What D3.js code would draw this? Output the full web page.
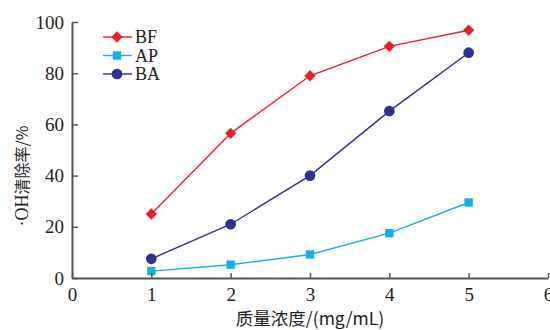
<!DOCTYPE html>
<html><head><meta charset="utf-8">
<script src="https://cdn.jsdelivr.net/npm/d3@7"></script>
<style>body{margin:0;background:#fff}svg{display:block}
.serif{font-family:'Liberation Serif','Times New Roman',serif !important}</style>
</head><body><svg id="c" width="550" height="330"></svg>
<script>
const xValues = [1, 2, 3, 4, 5];
const seriesNames = ["BF", "AP", "BA"];
const bfValues = [25, 56.5, 79, 90.5, 96.8];
const apValues = [2.7, 5.2, 9.2, 17.5, 29.5];
const baValues = [7.5, 21, 40, 65.2, 88];
const xTicks = [0, 1, 2, 3, 4, 5, 6];
const yTicks = [0, 20, 40, 60, 80, 100];
const xLabel = "质量浓度/(mg/mL)";
const yLabelPrefix = "·OH";
const yLabelMain = "清除率/%";

const colors = {BF: "#e8202a", AP: "#14aee8", BA: "#2e3192"};
const svg = d3.select("#c");
const x = d3.scaleLinear().domain([0, 6]).range([72, 548]);
const y = d3.scaleLinear().domain([0, 100]).range([278, 22]);
const cjk = "'Noto Sans CJK SC',sans-serif";

const series = [
  {name: "BF", values: bfValues, shape: d3.symbolSquare, size: 64, rot: 45},
  {name: "AP", values: apValues, shape: d3.symbolSquare, size: 70, rot: 0},
  {name: "BA", values: baValues, shape: d3.symbolCircle, size: 90, rot: 0}
];

const line = d3.line().x((d, i) => x(xValues[i])).y(d => y(d));
series.forEach(s => {
  svg.append("path").attr("d", line(s.values)).attr("fill", "none")
    .attr("stroke", colors[s.name]).attr("stroke-width", 1.4);
  svg.selectAll(null).data(s.values).enter().append("path")
    .attr("d", d3.symbol().type(s.shape).size(s.size))
    .attr("transform", (d, i) => `translate(${x(xValues[i])},${y(d)}) rotate(${s.rot})`)
    .attr("fill", colors[s.name]);
});

const axisColor = "#555";
const xa = svg.append("g").attr("transform", "translate(0,278)")
  .call(d3.axisBottom(x).tickValues(xTicks).tickFormat(d3.format("d")).tickSize(-5).tickPadding(10).tickSizeOuter(0));
const ya = svg.append("g").attr("transform", "translate(72,0)")
  .call(d3.axisLeft(y).tickValues(yTicks).tickFormat(d3.format("d")).tickSize(-6).tickPadding(8).tickSizeOuter(0));
[xa, ya].forEach(a => {
  a.attr("font-family", null).attr("font-size", 19);
  a.select(".domain").attr("stroke", axisColor).attr("stroke-width", 2);
  a.selectAll(".tick line").attr("stroke", axisColor).attr("stroke-width", 1.5);
  a.selectAll("text").classed("serif", true).attr("font-size", 19).attr("fill", "#222");
});
xa.selectAll("text").attr("dy", "0.71em");

svg.append("text").attr("x", 310).attr("y", 325).attr("text-anchor", "middle")
  .attr("font-family", cjk).attr("font-size", 17.5).attr("fill", "#222").text(xLabel);
const yl = svg.append("text").attr("transform", "translate(28,176) rotate(-90)").attr("text-anchor", "middle")
  .attr("font-size", 16).attr("fill", "#222");
yl.append("tspan").classed("serif", true).attr("font-size", 18).text(yLabelPrefix);
yl.append("tspan").attr("font-family", cjk).text(yLabelMain);

const leg = svg.append("g");
series.forEach((s, i) => {
  const yy = 37 + i * 18.5;
  leg.append("line").attr("x1", 103).attr("x2", 132).attr("y1", yy).attr("y2", yy)
    .attr("stroke", colors[s.name]).attr("stroke-width", 1.4);
  leg.append("path").attr("d", d3.symbol().type(s.shape).size(s.size))
    .attr("transform", `translate(117,${yy}) rotate(${s.rot})`)
    .attr("fill", colors[s.name]);
  leg.append("text").classed("serif", true).attr("x", 135).attr("y", yy).attr("dy", "0.35em")
    .attr("font-size", 18).attr("fill", "#222").text(s.name);
});
</script></body></html>
